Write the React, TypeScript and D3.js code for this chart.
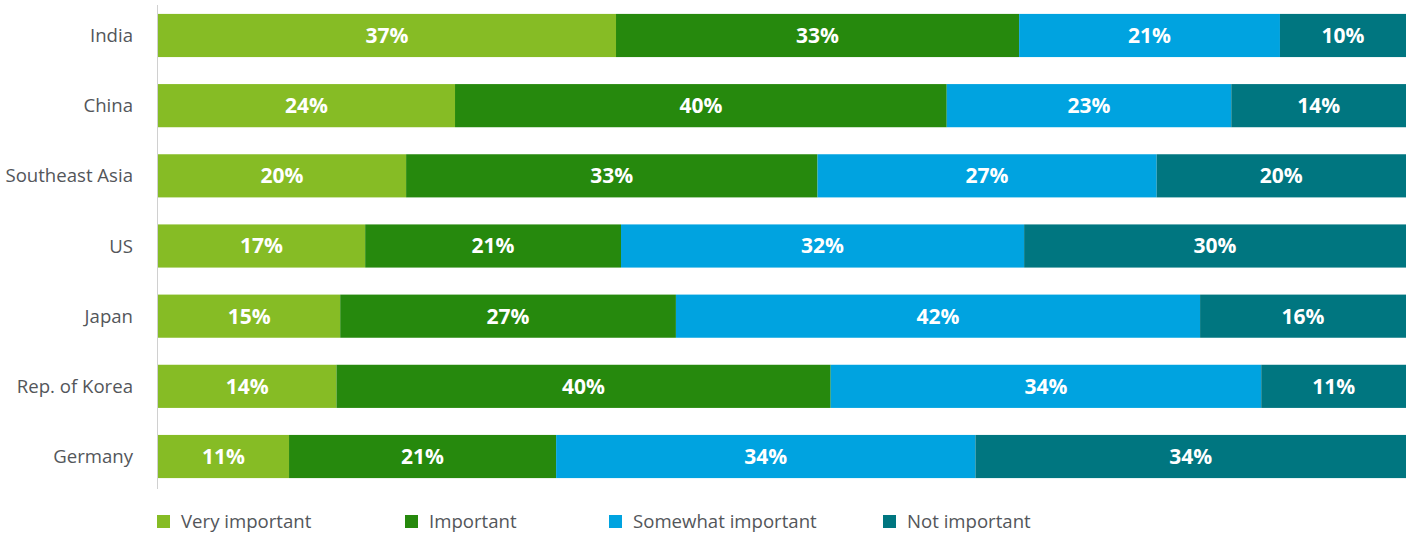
import React from "react";
import * as d3 from "d3";

const categories = ["India", "China", "Southeast Asia", "US", "Japan", "Rep. of Korea", "Germany"];
const seriesNames = ["Very important", "Important", "Somewhat important", "Not important"];
// Shares (unrounded)
const veryImportant = [36.7, 23.8, 19.9, 16.6, 14.6, 14.3, 10.5];
const important = [32.3, 39.4, 33.0, 20.5, 26.9, 39.6, 21.4];
const somewhatImportant = [20.9, 22.8, 27.2, 32.3, 42.0, 34.5, 33.6];
const notImportant = [10.1, 14.0, 20.0, 30.6, 16.5, 11.6, 34.5];
// Printed labels
const veryImportantLabels = ["37%", "24%", "20%", "17%", "15%", "14%", "11%"];
const importantLabels = ["33%", "40%", "33%", "21%", "27%", "40%", "21%"];
const somewhatImportantLabels = ["21%", "23%", "27%", "32%", "42%", "34%", "34%"];
const notImportantLabels = ["10%", "14%", "20%", "30%", "16%", "11%", "34%"];
const colors = ["#86bc25", "#26890d", "#00a3e0", "#007680"];
const legendX = [157, 405, 609, 883];

const W = 1408;
const H = 534;
const FONT = "'Open Sans', sans-serif";

export default function App() {
  const seriesValues = [veryImportant, important, somewhatImportant, notImportant];
  const seriesLabels = [veryImportantLabels, importantLabels, somewhatImportantLabels, notImportantLabels];
  const rows = categories.map((c, i) => {
    const r: any = { cat: c };
    seriesNames.forEach((s, j) => (r[s] = seriesValues[j][i]));
    return r;
  });
  const stack = d3.stack<any>().keys(seriesNames).offset(d3.stackOffsetExpand);
  const layers = stack(rows);

  const x = d3.scaleLinear().domain([0, 1]).range([158, 1406]);
  const y = d3
    .scaleBand<string>()
    .domain(categories)
    .range([5, 487])
    .paddingInner(0.385)
    .paddingOuter(0.127);

  return (
    <svg width={W} height={H} style={{ position: "absolute", left: 0, top: 0 }}>
      <line x1={157.5} x2={157.5} y1={5} y2={489} stroke="#d0d0d0" strokeWidth={1} />
      {layers.map((layer, j) => (
        <g key={layer.key}>
          {layer.map((d, i) => {
            const x0 = x(d[0]);
            const x1 = x(d[1]);
            const yy = y(categories[i])!;
            const bw = y.bandwidth();
            return (
              <g key={i}>
                <rect x={x0} y={yy} width={x1 - x0} height={bw} fill={colors[j]} />
                <text
                  x={(x0 + x1) / 2}
                  y={yy + bw / 2}
                  dy="0.35em"
                  textAnchor="middle"
                  fill="#ffffff"
                  fontFamily={FONT}
                  fontWeight={700}
                  fontSize={21}
                >
                  {seriesLabels[j][i]}
                </text>
              </g>
            );
          })}
        </g>
      ))}
      {categories.map((c) => (
        <text
          key={c}
          x={133}
          y={y(c)! + y.bandwidth() / 2}
          dy="0.35em"
          textAnchor="end"
          fill="#53565a"
          fontFamily={FONT}
          fontSize={18.6}
        >
          {c}
        </text>
      ))}
      {seriesNames.map((s, j) => (
        <g key={s} transform={`translate(${legendX[j]},0)`}>
          <rect x={0} y={515} width={13} height={13} fill={colors[j]} />
          <text x={24} y={521.5} dy="0.35em" fill="#53565a" fontFamily={FONT} fontSize={18.6}>
            {s}
          </text>
        </g>
      ))}
    </svg>
  );
}
